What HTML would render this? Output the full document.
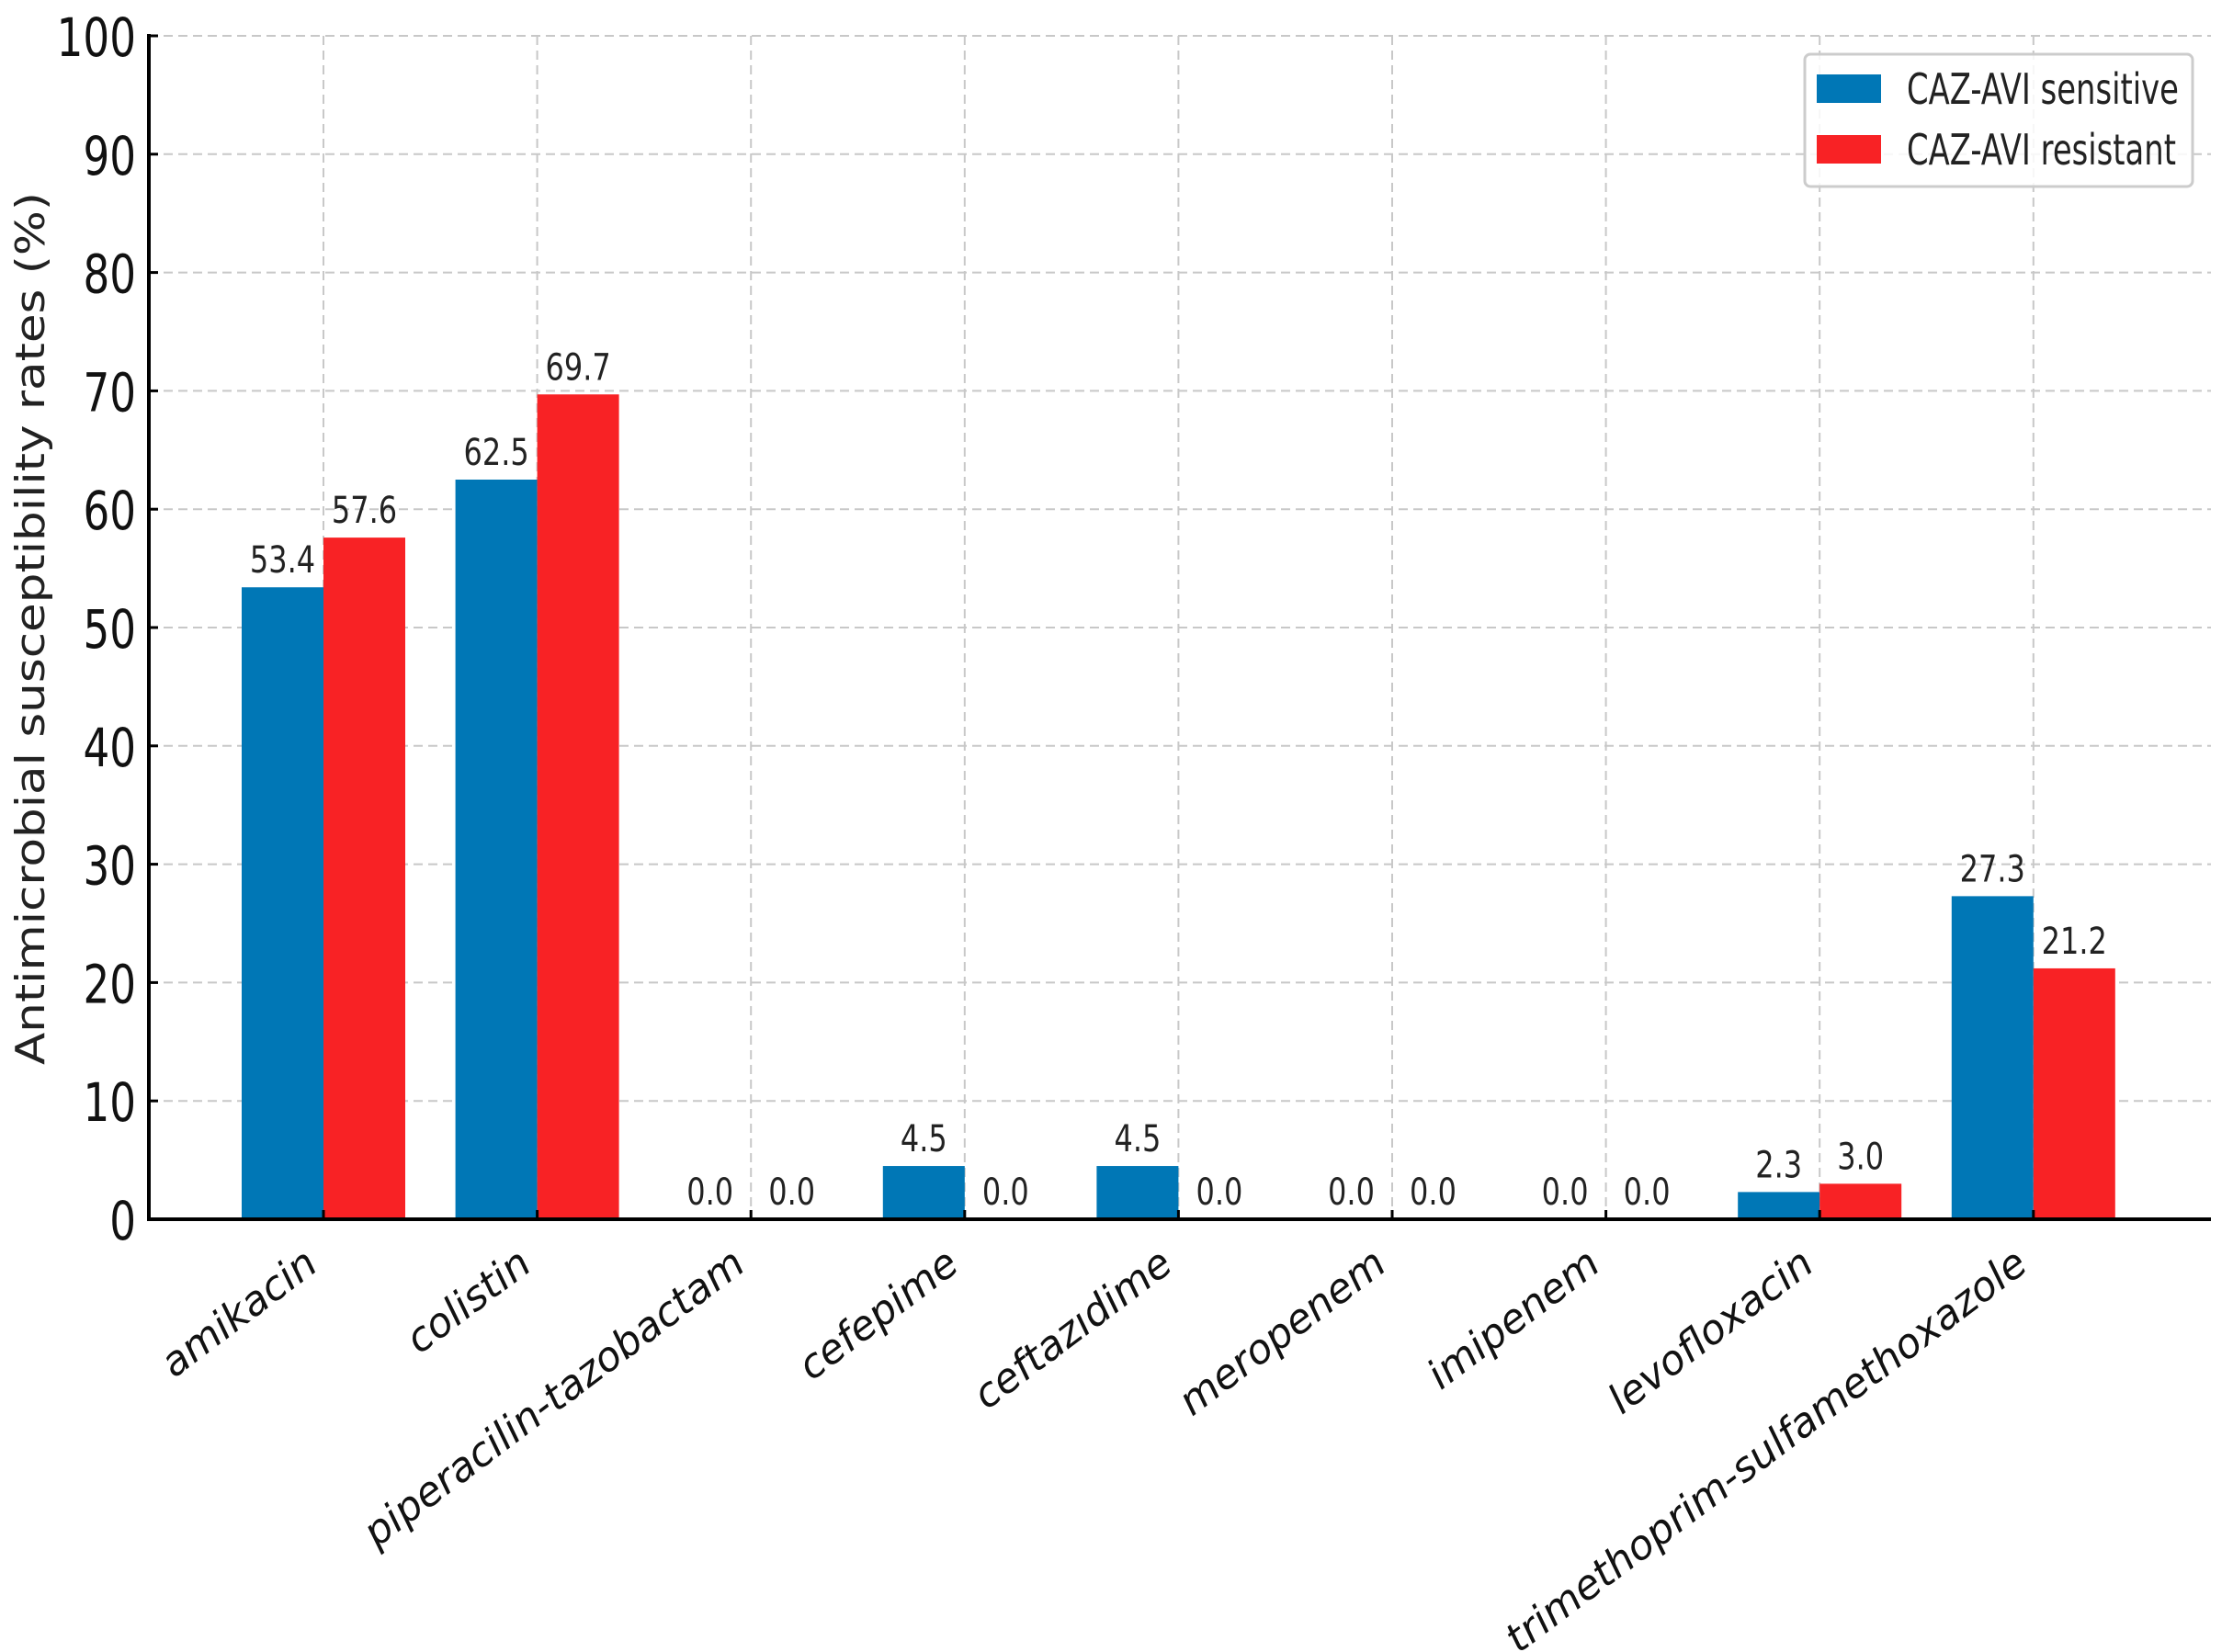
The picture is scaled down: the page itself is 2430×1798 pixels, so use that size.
<!DOCTYPE html>
<html><head><meta charset="utf-8"><style>
html,body{margin:0;padding:0;background:#fff;}
svg{display:block;}
text{font-family:"DejaVu Sans","Liberation Sans",sans-serif;}
</style></head><body>
<svg id="chart" width="2430" height="1798" viewBox="0 0 2430 1798" xmlns="http://www.w3.org/2000/svg">
<g id="grid"></g>
<g id="bars"></g>
<g id="labels"></g>
<g id="axes"></g>
<text x="0" y="0" transform="translate(48,684) rotate(-90)" text-anchor="middle" font-size="44" textLength="950" lengthAdjust="spacingAndGlyphs" fill="#222">Antimicrobial susceptibility rates (%)</text>
<g>
<rect x="1964" y="59" width="422" height="144" rx="6" fill="#fff" fill-opacity="0.85" stroke="#ccc" stroke-width="3"/>
<rect x="1977" y="81" width="70" height="31" fill="#0077b6"/>
<text x="2075" y="113" font-size="46" fill="#222" textLength="296" lengthAdjust="spacingAndGlyphs">CAZ-AVI sensitive</text>
<rect x="1977" y="147" width="70" height="31" fill="#f82225"/>
<text x="2075" y="179" font-size="46" fill="#222" textLength="293" lengthAdjust="spacingAndGlyphs">CAZ-AVI resistant</text>
</g>
</svg>
<script>
const categories = ["amikacin","colistin","piperacilin-tazobactam","cefepime","ceftazıdime","meropenem","imipenem","levofloxacin","trimethoprim-sulfamethoxazole"];
const sensitive = [53.4,62.5,0.0,4.5,4.5,0.0,0.0,2.3,27.3];
const resistant = [57.6,69.7,0.0,0.0,0.0,0.0,0.0,3.0,21.2];
const yTicks = [0,10,20,30,40,50,60,70,80,90,100];

const NS="http://www.w3.org/2000/svg";
const X0=162, X1=2406, Y0=1327, Y100=39;
const firstC=352, step=232.6, bw=89;
function xc(i){return firstC+i*step;}
function y(v){return Y0-(v/100)*(Y0-Y100);}
function mk(tag,attrs,parent,txt){const e=document.createElementNS(NS,tag);for(const k in attrs)e.setAttribute(k,attrs[k]);if(txt!==undefined)e.textContent=txt;parent.appendChild(e);return e;}
const grid=document.getElementById('grid'),bars=document.getElementById('bars'),labels=document.getElementById('labels'),axes=document.getElementById('axes');

yTicks.forEach(t=>{
  const l=mk('line',{x1:X0,x2:X1,y1:y(t),y2:y(t),stroke:'#c8c8c8','stroke-width':2,'stroke-dasharray':'10,6'},grid);
  
  
  const tk=mk('line',{x1:X0,x2:X0+10,y1:y(t),y2:y(t),stroke:'#000','stroke-width':3},axes);
  
  
  const tx=mk('text',{x:0,y:0,transform:`translate(${X0-14},${y(t)+22}) scale(0.78,1)`,'text-anchor':'end','font-size':58,fill:'#111'},axes,String(t));
  
  
});
categories.forEach((c,i)=>{
  const x=xc(i);
  const g=mk('line',{x1:x,x2:x,y1:Y100,y2:Y0,stroke:'#c8c8c8','stroke-width':2,'stroke-dasharray':'10,6'},grid);
  
  
  const b1=mk('rect',{x:x-bw,y:y(sensitive[i]),width:bw,height:Y0-y(sensitive[i]),fill:'#0077b6'},bars);
  
  
  const b2=mk('rect',{x:x,y:y(resistant[i]),width:bw,height:Y0-y(resistant[i]),fill:'#f82225'},bars);
  
  
  const l1=mk('text',{x:0,y:0,transform:`translate(${x-bw/2},${y(sensitive[i])-16}) scale(0.8,1)`,'text-anchor':'middle','font-size':40,fill:'#222'},labels,sensitive[i].toFixed(1));
  
  
  const l2=mk('text',{x:0,y:0,transform:`translate(${x+bw/2},${y(resistant[i])-16}) scale(0.8,1)`,'text-anchor':'middle','font-size':40,fill:'#222'},labels,resistant[i].toFixed(1));
  
  
  const tk=mk('line',{x1:x,x2:x,y1:Y0,y2:Y0-10,stroke:'#000','stroke-width':3},axes);
  
  
  const xl=mk('text',{x:0,y:0,transform:`translate(${x-4},${Y0+54}) rotate(-37)`,'text-anchor':'end','font-size':44,'font-style':'italic',fill:'#111'},axes,c);
  
  
});
const ya=mk('line',{x1:X0,x2:X0,y1:Y100-2,y2:Y0+2,stroke:'#000','stroke-width':4},axes);


const xa=mk('line',{x1:X0-2,x2:X1,y1:Y0,y2:Y0,stroke:'#000','stroke-width':4},axes);


</script>
</body></html>
